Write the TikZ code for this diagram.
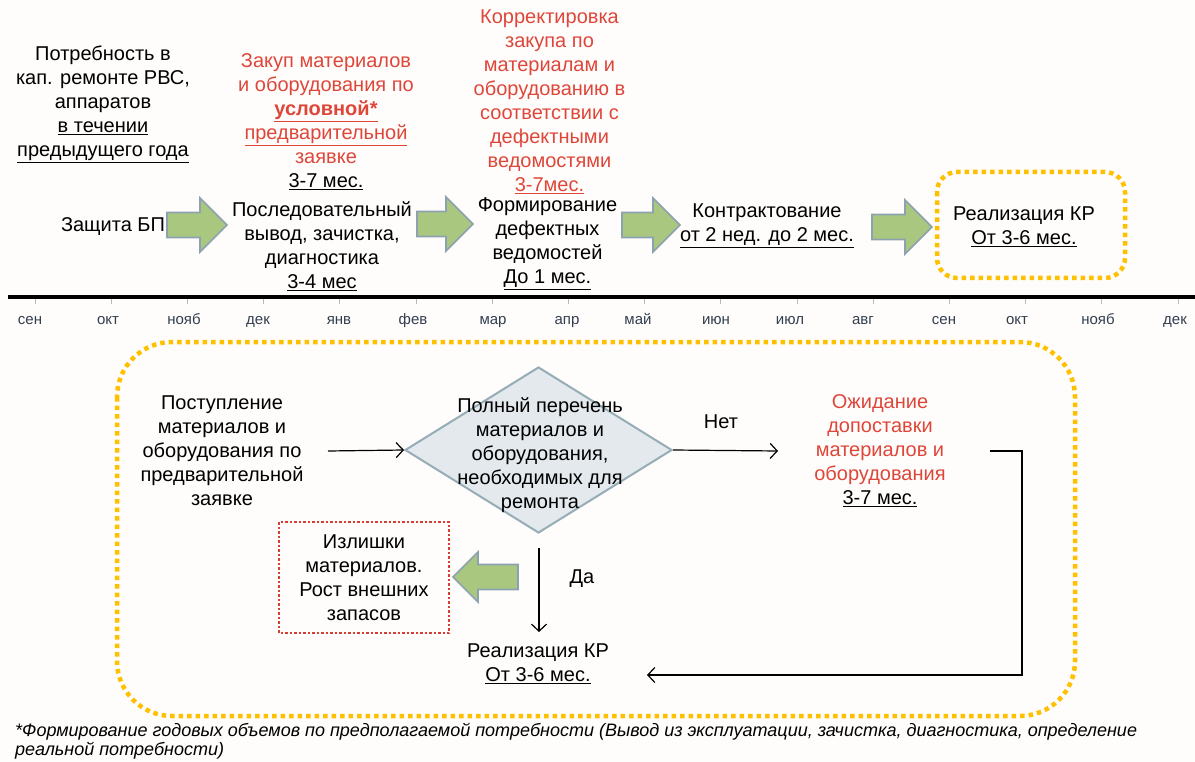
\documentclass[tikz,border=0pt]{standalone}
\usepackage{fontspec}
\setmainfont{Liberation Sans}
\usetikzlibrary{shapes.geometric,arrows.meta}
\definecolor{rtext}{RGB}{222,70,58}
\definecolor{bg}{RGB}{255,253,251}
\definecolor{gfill}{RGB}{170,199,128}
\definecolor{gstroke}{RGB}{140,162,176}
\definecolor{dfill}{RGB}{227,233,237}
\definecolor{dstroke}{RGB}{150,172,183}
\definecolor{yel}{RGB}{255,192,0}
\definecolor{rbox}{RGB}{214,62,52}
\definecolor{mon}{RGB}{50,62,80}
% right-pointing block arrow: #1 tail x, #2 tip x, #3 centre y
\newcommand\GArrR[3]{\draw[garrow] (#1,#3-12.5) -- (#2-27,#3-12.5) -- (#2-27,#3-27) -- (#2,#3) -- (#2-27,#3+27) -- (#2-27,#3+12.5) -- (#1,#3+12.5) -- cycle;}
% left-pointing block arrow: #1 tip x, #2 tail x, #3 centre y
\newcommand\GArrL[3]{\draw[garrow] (#2,#3-12.5) -- (#1+25,#3-12.5) -- (#1+25,#3-25) -- (#1,#3) -- (#1+25,#3+25) -- (#1+25,#3+12.5) -- (#2,#3+12.5) -- cycle;}
\begin{document}
\begin{tikzpicture}[x=1pt,y=-1pt,
  txt/.style={align=center, font=\fontsize{20}{24}\selectfont, inner sep=0pt},
  garrow/.style={draw=gstroke, fill=gfill, line width=1.6pt, line join=miter},
  yelbox/.style={draw=yel, line width=4.5pt, dash pattern=on 4.5pt off 4pt},
  conn/.style={draw, line width=1.2pt, -{Straight Barb[length=7pt,width=15pt,line width=1.2pt]}},
  montxt/.style={font=\fontsize{15}{17}\selectfont, text=mon, inner sep=0pt, anchor=base}
]
\useasboundingbox[fill=bg] (0,0) rectangle (1195,762);

% ---------- top row ----------
\node[txt] (potr) at (103,104.5) {Потребность в\\кап. ремонте РВС,\\аппаратов\\\underline{в течении}\\\underline{предыдущего года}};
\node[txt] (zash) at (113,227) {Защита БП};
\GArrR{167}{227}{225}
\node[txt] (zak) at (326,122) {\textcolor{rtext}{Закуп материалов}\\\textcolor{rtext}{и оборудования по}\\\textcolor{rtext}{\textbf{\underline{условной*}}}\\\textcolor{rtext}{\underline{предварительной}}\\\textcolor{rtext}{заявке}\\\underline{3-7 мес.}};
\node[txt] (posl) at (322,246) {Последовательный\\вывод, зачистка,\\диагностика\\\underline{3-4 мес}};
\GArrR{417}{473}{224}
\node[txt, text=rtext] (korr) at (549.5,101.5) {Корректировка\\закупа по\\материалам и\\оборудованию в\\соответствии с\\дефектными\\ведомостями\\\underline{3-7мес.}};
\node[txt] (form) at (547.5,244) {Формирование\\дефектных\\ведомостей\\\underline{До 1 мес.}};
\GArrR{622}{680}{225}
\node[txt] (kontr) at (767,225.5) {Контрактование\\\underline{от 2 нед. до 2 мес.}};
\GArrR{872}{932}{227}
\draw[yelbox, rounded corners=20pt] (937,172) rectangle (1125,278);
\node[txt] (real1) at (1024,226.5) {Реализация КР\\\underline{От 3-6 мес.}};

% ---------- timeline ----------
\draw[line width=3.4pt] (8,297) -- (1195,297);
\foreach \i in {0,...,15}
  \draw[gray!55, line width=0.8pt] ({35+76.2*\i},299) -- ({35+76.2*\i},304);
\foreach \x/\m in {30/сен,108/окт,184/нояб,258/дек,339/янв,413/фев,493/мар,567/апр,638/май,716/июн,790/июл,863/авг,944/сен,1017/окт,1098/нояб,1175/дек}
  \node[montxt] at (\x,325) {\m};

% ---------- bottom block ----------
\draw[yelbox, rounded corners=55pt] (117,342) rectangle (1075,716);
\node[txt] (post) at (222,450.5) {Поступление\\материалов и\\оборудования по\\предварительной\\заявке};
\node[diamond, draw=dstroke, fill=dfill, line width=2pt, minimum width=267pt, minimum height=166pt, inner sep=0pt] (dia) at (538.5,450) {};
\node[txt] (diat) at (540,455.5) {Полный перечень\\материалов и\\оборудования,\\необходимых для\\ремонта};
\node[txt] (ozh) at (880,450.5) {\textcolor{rtext}{Ожидание}\\\textcolor{rtext}{допоставки}\\\textcolor{rtext}{материалов и}\\\textcolor{rtext}{оборудования}\\\underline{3-7 мес.}};
\draw[rbox, line width=2.5pt, dash pattern=on 2.5pt off 2pt] (279,522) rectangle (449,633);
\node[txt] (izl) at (364,578) {Излишки\\материалов.\\Рост внешних\\запасов};
\GArrL{453}{518}{577}
\node[txt] (real2) at (538,663.5) {Реализация КР\\\underline{От 3-6 мес.}};

\coordinate (pstart) at (328,451);
\coordinate (netend) at (778,451);
\coordinate (ostart) at (990,451);
\coordinate (ocorner) at (1022,451);
\coordinate (bcorner) at (1022,675);
\coordinate (rend) at (647,675);
\coordinate (dstart) at (539,548);
\coordinate (dend) at (539,632);
\draw[conn] (pstart) -- (dia.west);
\draw[conn] (dia.east) -- (netend);
\node[txt] (net) at (721,422) {Нет};
\draw[conn] (ostart) -- (ocorner) -- (bcorner) -- (rend);
\draw[conn] (dstart) -- (dend);
\node[txt] (da) at (582,579) {Да};

% ---------- footnote ----------
\node[anchor=base west, align=left, inner sep=0pt, font=\fontsize{18}{18.5}\itshape\selectfont] (foot) at (15,755) {*Формирование годовых объемов по предполагаемой потребности (Вывод из эксплуатации, зачистка, диагностика, определение\\реальной потребности)};
\end{tikzpicture}
\end{document}
